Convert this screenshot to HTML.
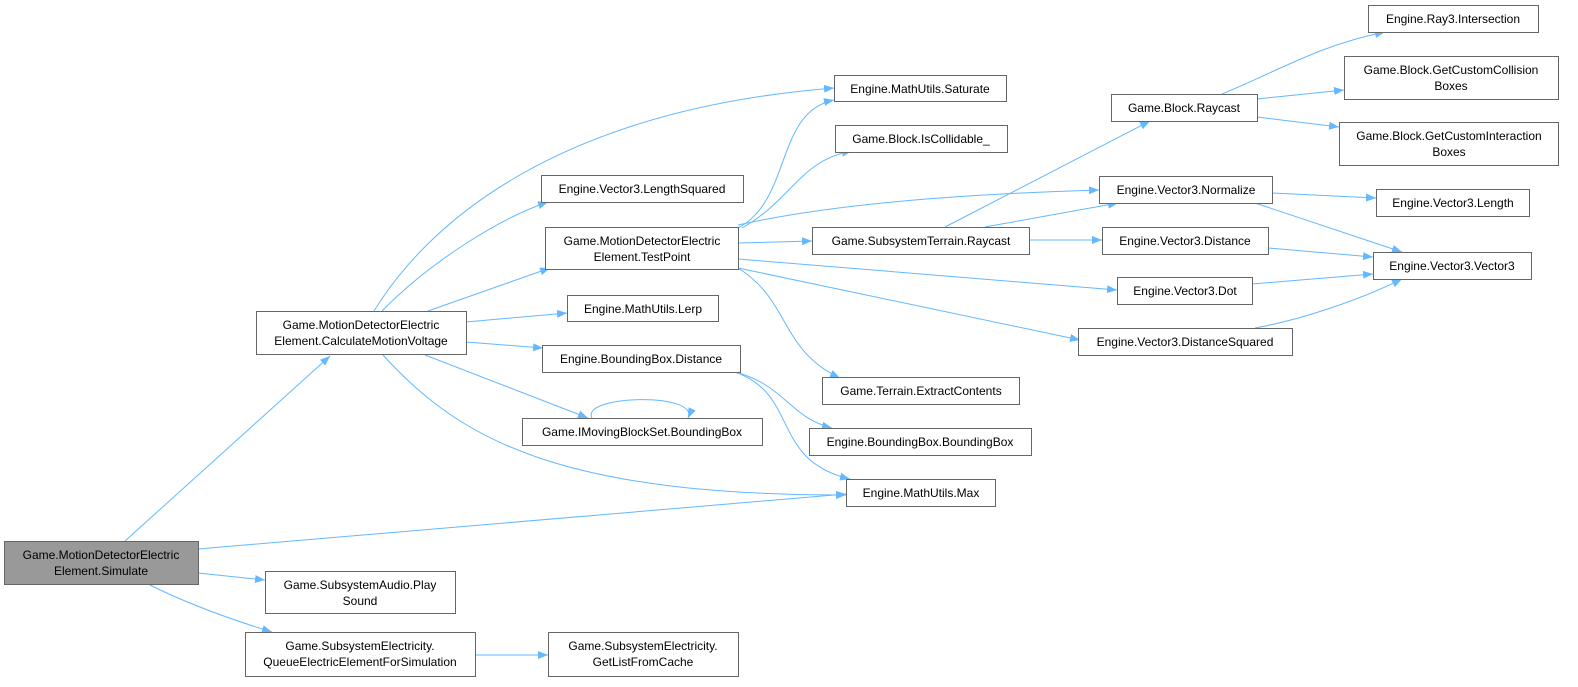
<!DOCTYPE html>
<html><head><meta charset="utf-8"><style>
html,body{margin:0;padding:0;background:#fff;}
svg{display:block;}
text{font-family:"Liberation Sans",Arial,sans-serif;font-size:12px;fill:#000;text-anchor:middle;}
.b{fill:#fff;stroke:#666;stroke-width:1;}
.e{fill:none;stroke:#63b8ff;stroke-width:1;marker-end:url(#a);}
</style></head><body>
<svg width="1578" height="687" viewBox="0 0 1578 687" xmlns="http://www.w3.org/2000/svg">
<defs><marker id="a" markerUnits="userSpaceOnUse" markerWidth="11" markerHeight="8" refX="10" refY="4" orient="auto"><path d="M0,0 L10,4 L0,8 z" fill="#63b8ff"/></marker></defs>
<!-- edges -->
<path class="e" d="M125,541 L330,356"/>
<path class="e" d="M198,549 L846,494"/>
<path class="e" d="M198,573 L265,580"/>
<path class="e" d="M150,585 Q200,610 272,632"/>
<path class="e" d="M475,655 L548,655"/>
<path class="e" d="M374,311 C430,220 560,110 834,88"/>
<path class="e" d="M382,311 C430,262 500,218 548,202"/>
<path class="e" d="M428,311 L550,268"/>
<path class="e" d="M466,322 L567,313"/>
<path class="e" d="M466,342 L543,348"/>
<path class="e" d="M425,355 L588,418"/>
<path class="e" d="M383,355 C460,440 560,495 846,495"/>
<path class="e" d="M592,418 C580,395 700,392 688,418"/>
<path class="e" d="M735,372 C785,385 790,418 832,428"/>
<path class="e" d="M735,372 C800,395 770,460 850,479"/>
<path class="e" d="M738,228 C792,200 775,112 834,100"/>
<path class="e" d="M742,228 C792,200 800,160 852,151"/>
<path class="e" d="M738,225 C850,200 1000,193 1099,190"/>
<path class="e" d="M738,243 L812,241"/>
<path class="e" d="M738,259 L1117,290"/>
<path class="e" d="M738,268 L1080,340"/>
<path class="e" d="M738,268 C790,300 780,350 840,378"/>
<path class="e" d="M945,227 L1150,121"/>
<path class="e" d="M985,227 L1118,203"/>
<path class="e" d="M1029,240 L1102,240"/>
<path class="e" d="M1222,94 C1280,70 1320,45 1385,32"/>
<path class="e" d="M1257,99 L1344,90"/>
<path class="e" d="M1257,117 L1339,127"/>
<path class="e" d="M1272,193 L1376,198"/>
<path class="e" d="M1255,203 L1402,252"/>
<path class="e" d="M1268,248 L1373,257"/>
<path class="e" d="M1252,284 L1373,274"/>
<path class="e" d="M1255,328 C1300,320 1360,300 1402,279"/>
<!-- nodes -->
<rect x="4.5" y="541.5" width="194" height="43" fill="#999" stroke="#666"/>
<text x="101" y="559">Game.MotionDetectorElectric</text><text x="101" y="575">Element.Simulate</text>
<rect class="b" x="256.5" y="311.5" width="210" height="43"/>
<text x="361" y="329">Game.MotionDetectorElectric</text><text x="361" y="345">Element.CalculateMotionVoltage</text>
<rect class="b" x="265.5" y="571.5" width="190" height="42"/>
<text x="360" y="589">Game.SubsystemAudio.Play</text><text x="360" y="605">Sound</text>
<rect class="b" x="245.5" y="632.5" width="230" height="44"/>
<text x="360" y="650">Game.SubsystemElectricity.</text><text x="360" y="666">QueueElectricElementForSimulation</text>
<rect class="b" x="548.5" y="632.5" width="190" height="44"/>
<text x="643" y="650">Game.SubsystemElectricity.</text><text x="643" y="666">GetListFromCache</text>
<rect class="b" x="834.5" y="75.5" width="172" height="26"/><text x="920" y="93">Engine.MathUtils.Saturate</text>
<rect class="b" x="835.5" y="125.5" width="172" height="27"/><text x="921" y="143">Game.Block.IsCollidable_</text>
<rect class="b" x="541.5" y="175.5" width="202" height="27"/><text x="642" y="193">Engine.Vector3.LengthSquared</text>
<rect class="b" x="545.5" y="227.5" width="193" height="42"/>
<text x="642" y="245">Game.MotionDetectorElectric</text><text x="642" y="261">Element.TestPoint</text>
<rect class="b" x="812.5" y="227.5" width="217" height="27"/><text x="921" y="245">Game.SubsystemTerrain.Raycast</text>
<rect class="b" x="567.5" y="295.5" width="151" height="26"/><text x="643" y="313">Engine.MathUtils.Lerp</text>
<rect class="b" x="542.5" y="345.5" width="198" height="27"/><text x="641" y="363">Engine.BoundingBox.Distance</text>
<rect class="b" x="822.5" y="377.5" width="197" height="27"/><text x="921" y="395">Game.Terrain.ExtractContents</text>
<rect class="b" x="522.5" y="418.5" width="240" height="27"/><text x="642" y="436">Game.IMovingBlockSet.BoundingBox</text>
<rect class="b" x="809.5" y="428.5" width="222" height="27"/><text x="920" y="446">Engine.BoundingBox.BoundingBox</text>
<rect class="b" x="846.5" y="479.5" width="149" height="27"/><text x="921" y="497">Engine.MathUtils.Max</text>
<rect class="b" x="1368.5" y="5.5" width="170" height="27"/><text x="1453" y="23">Engine.Ray3.Intersection</text>
<rect class="b" x="1344.5" y="56.5" width="214" height="43"/>
<text x="1451" y="74">Game.Block.GetCustomCollision</text><text x="1451" y="90">Boxes</text>
<rect class="b" x="1339.5" y="122.5" width="219" height="43"/>
<text x="1449" y="140">Game.Block.GetCustomInteraction</text><text x="1449" y="156">Boxes</text>
<rect class="b" x="1111.5" y="94.5" width="146" height="27"/><text x="1184" y="112">Game.Block.Raycast</text>
<rect class="b" x="1099.5" y="176.5" width="173" height="27"/><text x="1186" y="194">Engine.Vector3.Normalize</text>
<rect class="b" x="1376.5" y="189.5" width="153" height="27"/><text x="1453" y="207">Engine.Vector3.Length</text>
<rect class="b" x="1102.5" y="227.5" width="166" height="27"/><text x="1185" y="245">Engine.Vector3.Distance</text>
<rect class="b" x="1373.5" y="252.5" width="158" height="27"/><text x="1452" y="270">Engine.Vector3.Vector3</text>
<rect class="b" x="1117.5" y="277.5" width="135" height="27"/><text x="1185" y="295">Engine.Vector3.Dot</text>
<rect class="b" x="1078.5" y="328.5" width="214" height="27"/><text x="1185" y="346">Engine.Vector3.DistanceSquared</text>
</svg>
</body></html>
